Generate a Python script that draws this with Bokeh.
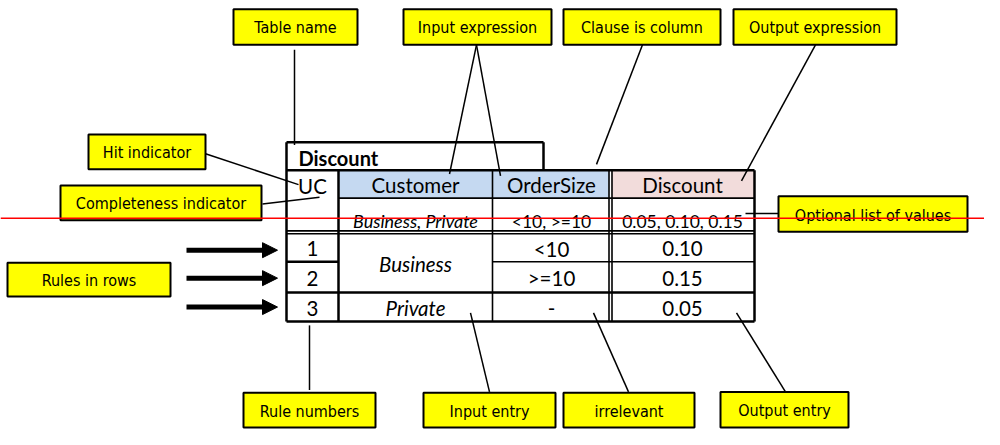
from bokeh.plotting import figure
from bokeh.models import Range1d, Arrow, NormalHead
from bokeh.core.properties import value
from bokeh.embed import file_html
from bokeh.resources import INLINE

# ---------------- content ----------------
table_name = "Discount"
hit_policy = "UC"
input_headers = ["Customer", "OrderSize"]
output_header = "Discount"
input_value_lists = ["Business, Private", "<10, >=10"]
output_value_list = "0.05, 0.10, 0.15"
rule_numbers = ["1", "2", "3"]
customer_entries = ["Business", "Business", "Private"]
order_size_entries = ["<10", ">=10", "-"]
discount_entries = ["0.10", "0.15", "0.05"]

callout_labels = ["Table name", "Input expression", "Clause is column", "Output expression",
                  "Hit indicator", "Completeness indicator", "Rules in rows",
                  "Optional list of values", "Rule numbers", "Input entry",
                  "irrelevant", "Output entry"]

# ---------------- layout (pixel space of the diagram) ----------------
box_l = [233, 403, 563, 733, 88, 60, 7, 778, 243, 423, 563, 720]
box_r = [357, 551, 720, 896, 205, 261, 170, 967, 375, 555, 694, 848]
box_t = [9, 9, 9, 9, 139, 192, 272, 203, 407, 407, 407, 406]
box_b = [46, 46, 46, 46, 175, 228, 307, 240, 443, 443, 443, 443]

con_x0 = [294, 476, 476, 642, 815, 205, 262, 745, 309, 470, 593, 736]
con_y0 = [51, 46, 46, 46, 46, 159, 211, 221, 337, 324, 324, 324]
con_x1 = [294, 449, 500, 596, 741, 298, 319, 778, 309, 489, 628, 785]
con_y1 = [150, 180, 182, 170, 187, 191, 204, 221, 404, 406, 406, 406]

arrow_y = [259, 288, 318]
arrow_x0, arrow_x1 = 186, 277

# table grid
col_x = [286, 338, 492, 610, 754]
title_r, title_t = 543, 147
head_t, head_b = 176, 205
vals_b = 239
rule_tops = [242, 271, 303]
table_b = 333

CAL = value("Lato")
NAR = value("'DejaVu Sans Condensed', 'Liberation Sans', sans-serif")

p = figure(width=984, height=429, x_range=Range1d(0, 984), y_range=Range1d(445, 0),
           output_backend="svg", toolbar_location=None, min_border=0,
           x_axis_type=None, y_axis_type=None)
p.outline_line_color = None
p.background_fill_color = "white"
p.border_fill_color = "white"

# header fills
p.quad(left=[col_x[1], col_x[2], col_x[3] + 1], right=[col_x[2], col_x[3] - 1, col_x[4]],
       top=[head_t] * 3, bottom=[head_b] * 3,
       fill_color=["#c5d9f1", "#c5d9f1", "#f2dcdb"], line_color=None)

thick = [
    (col_x[0], title_t, title_r, title_t),
    (title_r, title_t, title_r, head_t),
    (col_x[0], title_t, col_x[0], table_b),
    (col_x[0], head_t, col_x[4], head_t),
    (col_x[4], head_t, col_x[4], table_b),
    (col_x[0], table_b, col_x[4], table_b),
    (col_x[1], head_t, col_x[1], table_b),
    (col_x[0], rule_tops[1], col_x[1], rule_tops[1]),
    (col_x[0], rule_tops[2], col_x[4], rule_tops[2]),
]
p.segment(x0=[s[0] for s in thick], y0=[s[1] for s in thick],
          x1=[s[2] for s in thick], y1=[s[3] for s in thick],
          line_color="black", line_width=2.5)

thin = [
    (col_x[1], head_b, col_x[4], head_b),
    (col_x[2], head_t, col_x[2], table_b),
    (col_x[3] - 1.5, head_t, col_x[3] - 1.5, table_b),
    (col_x[3] + 1.5, head_t, col_x[3] + 1.5, table_b),
    (col_x[2], rule_tops[1], col_x[4], rule_tops[1]),
    (col_x[0], vals_b, col_x[4], vals_b),
    (col_x[0], rule_tops[0], col_x[4], rule_tops[0]),
]
p.segment(x0=[s[0] for s in thin], y0=[s[1] for s in thin],
          x1=[s[2] for s in thin], y1=[s[3] for s in thin],
          line_color="black", line_width=1.6)

def cx(i):
    return (col_x[i] + col_x[i + 1]) / 2

BIG = "20.5px"
SMALL = "17.5px"

p.text(x=[298], y=[163], text=[table_name], text_font=CAL, text_font_style="bold",
       text_font_size="20px", text_baseline="middle", text_align="left", text_color="black")
p.text(x=[cx(0)], y=[192], text=[hit_policy], text_font=CAL, text_font_size=BIG,
       text_baseline="middle", text_align="center", text_color="black")
p.text(x=[cx(1), cx(2), cx(3)], y=[191] * 3, text=input_headers + [output_header],
       text_font=CAL, text_font_size=BIG, text_baseline="middle", text_align="center",
       text_color="black")
p.text(x=[cx(1)], y=[229], text=[input_value_lists[0]], text_font=CAL, text_font_style="italic",
       text_font_size="18px", text_baseline="middle", text_align="center", text_color="black")
p.text(x=[cx(2), cx(3)], y=[229] * 2, text=[input_value_lists[1], output_value_list],
       text_font=CAL, text_font_size=SMALL, text_baseline="middle", text_align="center",
       text_color="black")

row_mid = [(rule_tops[i] + (rule_tops[i + 1] if i + 1 < len(rule_tops) else table_b)) / 2 + 1
           for i in range(len(rule_numbers))]
p.text(x=[cx(0)] * len(rule_numbers), y=row_mid, text=rule_numbers, text_font=CAL,
       text_font_size=BIG, text_baseline="middle", text_align="center", text_color="black")
p.text(x=[cx(2)] * len(order_size_entries), y=row_mid, text=order_size_entries, text_font=CAL,
       text_font_size=BIG, text_baseline="middle", text_align="center", text_color="black")
p.text(x=[cx(3)] * len(discount_entries), y=row_mid, text=discount_entries, text_font=CAL,
       text_font_size=BIG, text_baseline="middle", text_align="center", text_color="black")

groups = []
i = 0
while i < len(customer_entries):
    j = i
    while j + 1 < len(customer_entries) and customer_entries[j + 1] == customer_entries[i]:
        j += 1
    groups.append((customer_entries[i], i, j))
    i = j + 1
g_y = []
for name, a, b in groups:
    top = rule_tops[a]
    bot = rule_tops[b + 1] if b + 1 < len(rule_tops) else table_b
    g_y.append((top + bot) / 2 + 1)
p.text(x=[cx(1)] * len(groups), y=g_y, text=[g[0] for g in groups], text_font=CAL,
       text_font_style="italic", text_font_size=BIG, text_baseline="middle",
       text_align="center", text_color="black")

# connectors
p.segment(x0=con_x0, y0=con_y0, x1=con_x1, y1=con_y1, line_color="black", line_width=1.5)

for y in arrow_y:
    p.add_layout(Arrow(end=NormalHead(size=15, fill_color="black", line_color="black"),
                       x_start=arrow_x0, y_start=y, x_end=arrow_x1, y_end=y,
                       line_width=5, line_color="black"))

p.quad(left=box_l, right=box_r, top=box_t, bottom=box_b, fill_color="#ffff00",
       line_color="black", line_width=2)
p.text(x=[(l + r) / 2 for l, r in zip(box_l, box_r)],
       y=[(t + b) / 2 + 1 for t, b in zip(box_t, box_b)],
       text=callout_labels, text_font=NAR, text_font_size="16px",
       text_baseline="middle", text_align="center", text_color="black")

# red line on top of everything
p.segment(x0=[0], y0=[226], x1=[1000], y1=[226], line_color="#ff0000", line_width=1.5)

open("out.html", "w").write(file_html(p, INLINE))
